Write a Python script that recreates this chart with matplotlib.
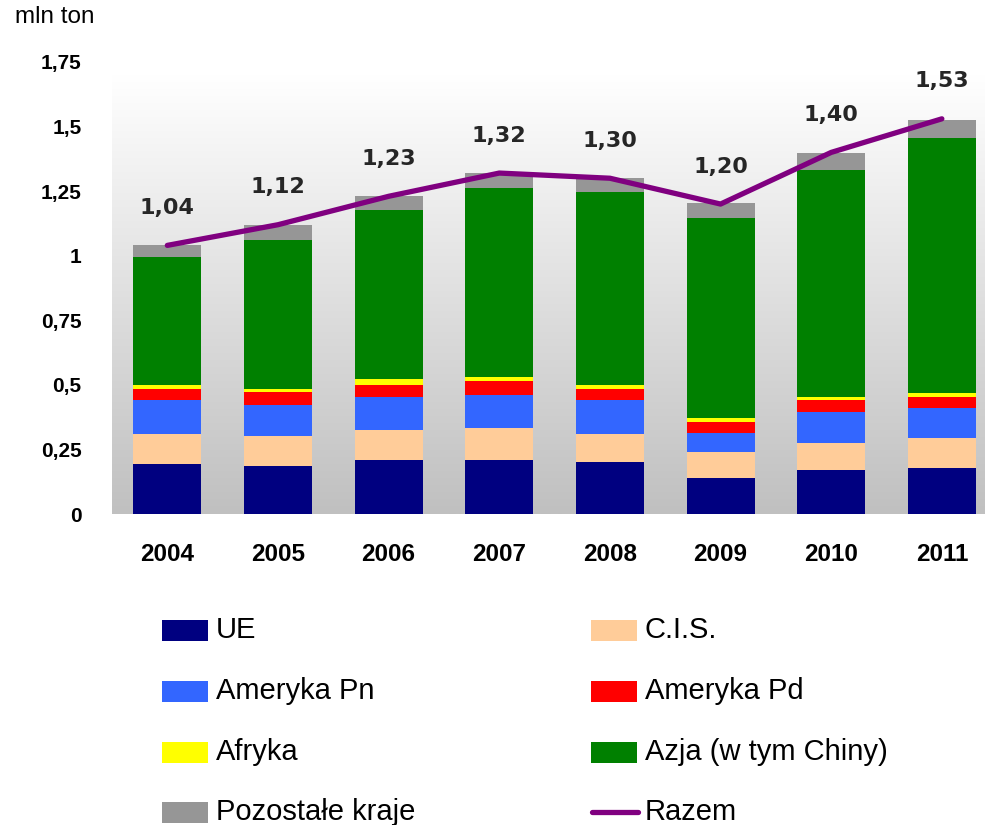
import matplotlib
matplotlib.use("Agg")
import matplotlib.pyplot as plt
import numpy as np
from matplotlib.patches import Rectangle
from matplotlib.lines import Line2D
from matplotlib.colors import LinearSegmentedColormap

years = ["2004", "2005", "2006", "2007", "2008", "2009", "2010", "2011"]
ue = [0.194, 0.186, 0.209, 0.209, 0.201, 0.139, 0.170, 0.178]
cis = [0.116, 0.116, 0.116, 0.124, 0.109, 0.101, 0.105, 0.116]
ameryka_pn = [0.131, 0.120, 0.128, 0.128, 0.131, 0.074, 0.120, 0.116]
ameryka_pd = [0.043, 0.050, 0.046, 0.054, 0.043, 0.042, 0.046, 0.043]
afryka = [0.015, 0.012, 0.024, 0.015, 0.015, 0.016, 0.012, 0.015]
azja = [0.496, 0.577, 0.654, 0.732, 0.748, 0.774, 0.879, 0.988]
pozostale = [0.046, 0.059, 0.053, 0.058, 0.054, 0.058, 0.066, 0.069]
razem = [1.04, 1.12, 1.23, 1.32, 1.30, 1.20, 1.40, 1.53]
razem_labels = ["1,04", "1,12", "1,23", "1,32", "1,30", "1,20", "1,40", "1,53"]
yticks = [0, 0.25, 0.5, 0.75, 1.0, 1.25, 1.5, 1.75]
ytick_labels = ["0", "0,25", "0,5", "0,75", "1", "1,25", "1,5", "1,75"]

series_names = ["UE", "C.I.S.", "Ameryka Pn", "Ameryka Pd", "Afryka",
                "Azja (w tym Chiny)", "Pozostałe kraje"]
series_vals = [ue, cis, ameryka_pn, ameryka_pd, afryka, azja, pozostale]
colors = ["#000080", "#FFCC99", "#3366FF", "#FF0000", "#FFFF00", "#008000", "#969696"]
line_color = "#800080"

W, H = 985, 825
fig = plt.figure(figsize=(W / 100, H / 100), dpi=100)
fig.patch.set_facecolor("white")

ax_l, ax_r, ax_b, ax_t = 112, 985, 514, 62
ax = fig.add_axes([ax_l / W, 1 - ax_b / H, (ax_r - ax_l) / W, (ax_b - ax_t) / H])

x = np.arange(len(years))

# gradient background (white at top -> grey at bottom)
grad = np.linspace(0, 1, 256).reshape(-1, 1)
cmap = LinearSegmentedColormap.from_list("g", ["#ffffff", "#c0c0c0"])
ax.imshow(grad, aspect="auto", cmap=cmap, extent=(-0.5, 7.39, 0, 1.70),
          zorder=0, origin="upper")
ax.set_xlim(-0.5, 7.39)
ax.set_ylim(0, 1.75)

bottom = np.zeros(len(years))
for name, vals, c in zip(series_names, series_vals, colors):
    ax.bar(x, vals, width=0.615, bottom=bottom, color=c, zorder=2, linewidth=0)
    bottom += np.array(vals)

ax.plot(x, razem, color=line_color, lw=3.8, solid_capstyle="round",
        solid_joinstyle="round", zorder=3)
for xi, v, lab in zip(x, razem, razem_labels):
    ax.annotate(lab, (xi, v), xytext=(0, 27), textcoords="offset points",
                ha="center", va="center", fontsize=16, fontweight="bold",
                family="DejaVu Sans", color="#262626", zorder=4)

for s in ax.spines.values():
    s.set_visible(False)
ax.set_xticks(x)
ax.set_xticklabels(years, fontsize=17.5, fontweight="bold", family="Liberation Sans")
ax.set_yticks(yticks)
ax.set_yticklabels(ytick_labels, fontsize=15, fontweight="bold", family="Liberation Sans")
ax.tick_params(axis="x", length=0, pad=21)
ax.tick_params(axis="y", length=0, pad=22)

fig.text(15 / W, 1 - 17 / H, "mln ton", fontsize=17.5, family="Liberation Sans",
         ha="left", va="center")

# legend
rows_y = [630, 691, 752, 812]
col_x = [162, 591]
order = [(0, 0, 0), (1, 1, 0), (2, 0, 1), (3, 1, 1), (4, 0, 2), (5, 1, 2), (6, 0, 3)]
for idx, col, row in order:
    px = col_x[col]
    py = rows_y[row]
    fig.patches.append(Rectangle((px / W, 1 - (py + 10.5) / H), 46 / W, 21 / H,
                                 transform=fig.transFigure, color=colors[idx],
                                 linewidth=0))
    fig.text((px + 54) / W, 1 - py / H, series_names[idx], fontsize=21,
             family="Liberation Sans", ha="left", va="center")
# Razem line entry
py = rows_y[3]
fig.lines.append(Line2D([(591 + 1) / W, (591 + 47) / W], [1 - py / H, 1 - py / H],
                        transform=fig.transFigure, color=line_color, lw=3.8,
                        solid_capstyle="round"))
fig.text((591 + 54) / W, 1 - py / H, "Razem", fontsize=21,
         family="Liberation Sans", ha="left", va="center")

fig.savefig("out.png", dpi=100, facecolor="white")
